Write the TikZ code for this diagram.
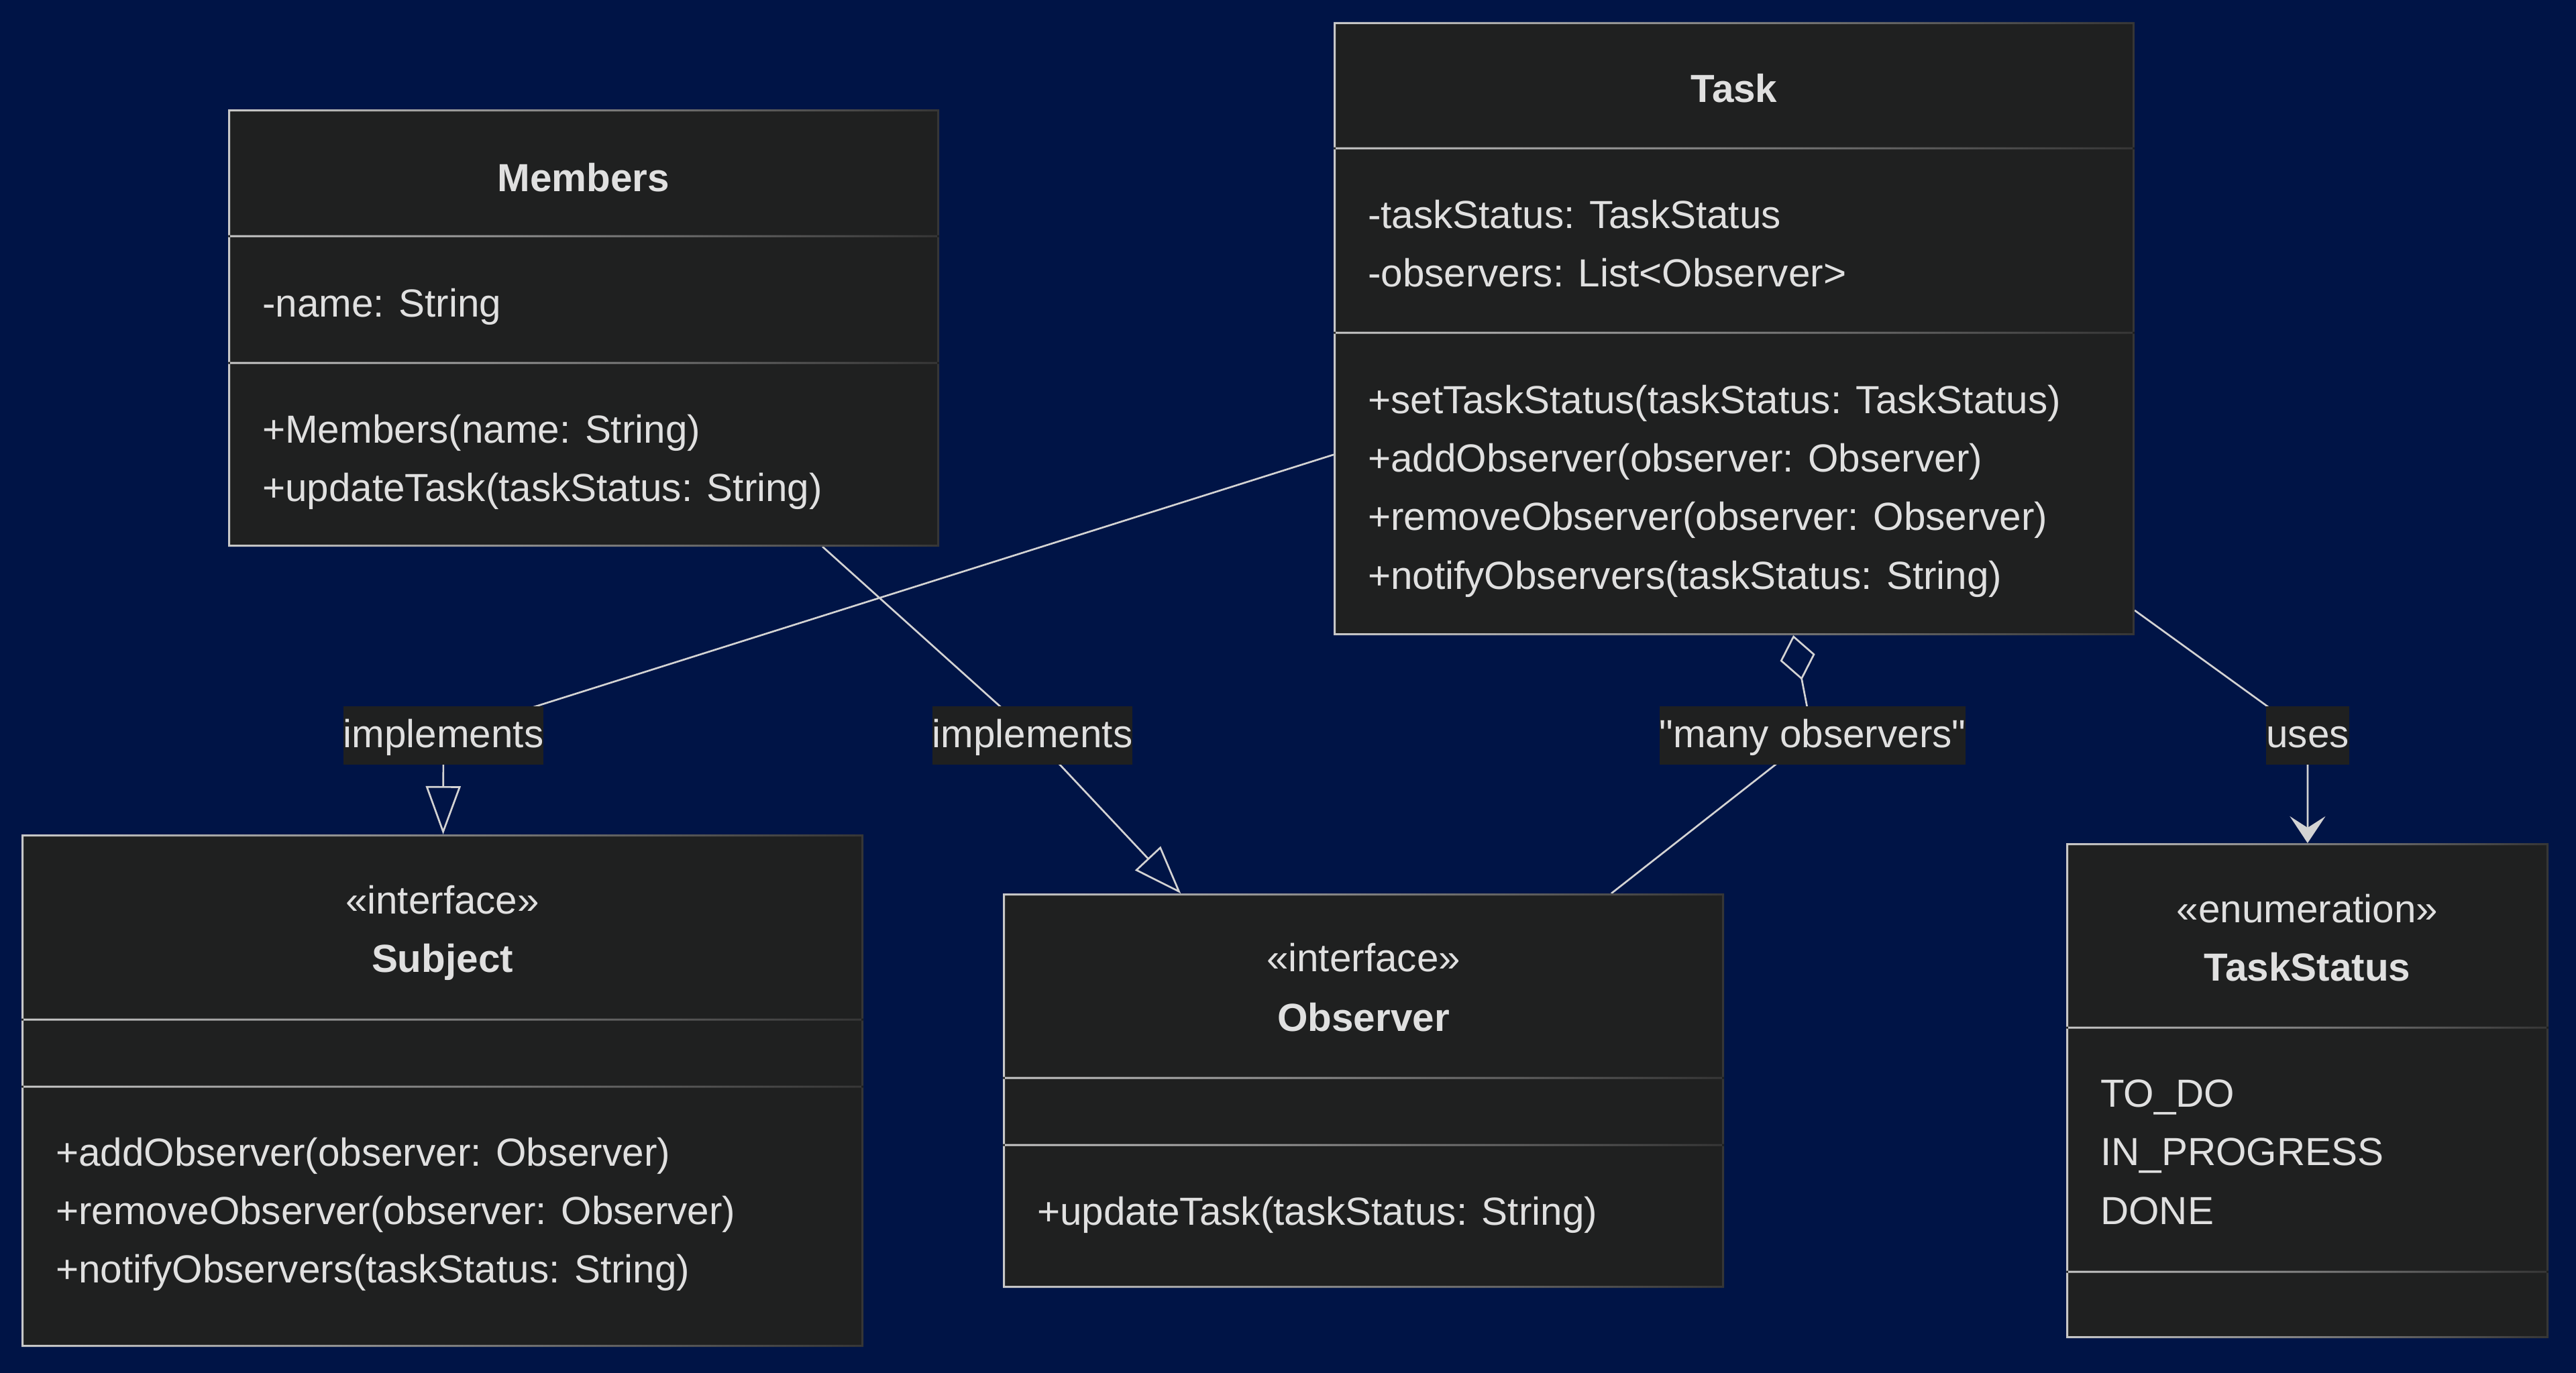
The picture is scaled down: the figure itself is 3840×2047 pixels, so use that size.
\documentclass[tikz,border=0pt]{standalone}
\usepackage{fontspec}
\setmainfont{Liberation Sans}
% same face without TeX input ligatures, so that " stays a straight quote
\newfontfamily\plainface{Liberation Sans}
\usetikzlibrary{arrows.meta,calc}

\definecolor{canvas}{HTML}{001446}
\definecolor{boxfill}{HTML}{1F2020}
\definecolor{ink}{HTML}{E0E0E0}
\definecolor{wire}{HTML}{D3D3D3}
\definecolor{rimlight}{HTML}{C8C8C8}
\definecolor{rimdark}{HTML}{363636}

\pgfdeclarelayer{backdrop}
\pgfdeclarelayer{wires}
\pgfsetlayers{backdrop,wires,main}

\newcommand\labelfont{\fontsize{58.4}{70}\selectfont}

\tikzset{
  classbox/.style={rectangle, fill=boxfill, draw=none, inner sep=0pt, outer sep=0pt},
  member/.style={anchor=base west, inner sep=0pt, text=ink, font=\labelfont},
  heading/.style={anchor=base, inner sep=0pt, text=ink, font=\labelfont\bfseries},
  stereo/.style={anchor=base, inner sep=0pt, text=ink, font=\labelfont},
  edgelabel/.style={rectangle, fill=boxfill, text=ink, inner xsep=0pt, inner ysep=0pt,
    text height=61pt, text depth=26pt, outer sep=0pt, font=\labelfont},
  wireline/.style={draw=wire, line width=2.7pt},
  realizes/.style={wireline, -{Triangle[open, length=72pt, width=52pt]}},
  aggregates/.style={wireline, -{Diamond[open, length=68pt, width=53pt]}},
  depends/.style={wireline, -{Stealth[length=40pt, width=53pt, inset=17pt, fill=wire]}},
}

% Gradient frame of a class box: outline plus two compartment separators
\newcommand\classrim[3]{%
  \path (0,#2) coordinate (rimA) (0,#3) coordinate (rimB);
  \shade[left color=rimlight, right color=rimdark, even odd rule]
    (#1.north west) rectangle (#1.south east)
    ($(#1.north west)+(3,3)$) rectangle ($(#1.south east)+(-3,-3)$)
    ($(#1.west |- rimA)+(0,-1.5)$) rectangle ($(#1.east |- rimA)+(0,1.5)$)
    ($(#1.west |- rimB)+(0,-1.5)$) rectangle ($(#1.east |- rimB)+(0,1.5)$);
}

\begin{document}
\begin{tikzpicture}[x=1pt, y=-1pt]
\useasboundingbox (0,0) rectangle (3840,2047);
\begin{pgfonlayer}{backdrop}
  \fill[canvas] (0,0) rectangle (3840,2047);
\end{pgfonlayer}

% ---------- Members ----------
\node[classbox, minimum width=1060pt, minimum height=652pt] (Members) at (870,489) {};
\classrim{Members}{352}{541}
\node[heading] (membersName) at (870,285) {Members};
\node[member] (membersA1) at (391,472) {-name: String};
\node[member] (membersM1) at (391,660) {+Members(name: String)};
\node[member] (membersM2) at (391,747) {+updateTask(taskStatus: String)};

% ---------- Task ----------
\node[classbox, minimum width=1194pt, minimum height=914pt] (Task) at (2585,490) {};
\classrim{Task}{221}{496}
\node[heading] (taskName) at (2585,152) {Task};
\node[member] (taskA1) at (2039,340) {-taskStatus: TaskStatus};
\node[member] (taskA2) at (2039,427) {-observers: List<Observer>};
\node[member] (taskM1) at (2039,616) {+setTaskStatus(taskStatus: TaskStatus)};
\node[member] (taskM2) at (2039,703) {+addObserver(observer: Observer)};
\node[member] (taskM3) at (2039,790) {+removeObserver(observer: Observer)};
\node[member] (taskM4) at (2039,878) {+notifyObservers(taskStatus: String)};

% ---------- Subject ----------
\node[classbox, minimum width=1255pt, minimum height=764pt] (Subject) at (659.5,1626) {};
\classrim{Subject}{1520}{1620}
\node[stereo] (subjectKind) at (659.5,1362) {«interface»};
\node[heading] (subjectName) at (659.5,1449) {Subject};
\node[member] (subjectM1) at (83,1738) {+addObserver(observer: Observer)};
\node[member] (subjectM2) at (83,1825) {+removeObserver(observer: Observer)};
\node[member] (subjectM3) at (83,1912) {+notifyObservers(taskStatus: String)};

% ---------- Observer ----------
\node[classbox, minimum width=1075pt, minimum height=588pt] (Observer) at (2032.5,1626) {};
\classrim{Observer}{1607}{1707}
\node[stereo] (observerKind) at (2032.5,1448) {«interface»};
\node[heading] (observerName) at (2032.5,1537) {Observer};
\node[member] (observerM1) at (1546,1826) {+updateTask(taskStatus: String)};

% ---------- TaskStatus ----------
\node[classbox, minimum width=719pt, minimum height=738pt] (TaskStatus) at (3439.5,1626) {};
\classrim{TaskStatus}{1532}{1896}
\node[stereo] (statusKind) at (3439.5,1375) {«enumeration»};
\node[heading] (statusName) at (3439.5,1462) {TaskStatus};
\node[member] (statusV1) at (3131,1650) {TO\_DO};
\node[member] (statusV2) at (3131,1737) {IN\_PROGRESS};
\node[member] (statusV3) at (3131,1825) {DONE};

% ---------- relation labels ----------
\node[edgelabel] (L1) at (661,1096.5) {implements};
\node[edgelabel] (L2) at (1539,1096.5) {implements};
\node[edgelabel] (L3) at (2702,1096.5) {\plainface "many observers"};
\node[edgelabel] (L4) at (3440,1096.5) {uses};

% ---------- relations ----------
\begin{pgfonlayer}{wires}
  \draw[wireline] (Task) -- (L1.center);
  \draw[realizes] (L1.center) -- (Subject);
  \draw[wireline] (Members) -- (L2.center);
  \draw[realizes] (L2.center) -- (Observer);
  \draw[aggregates] (L3.center) -- (Task);
  \draw[wireline] (L3.center) -- (Observer);
  \draw[wireline] (Task) -- (L4.center);
  \draw[depends] (L4.center) -- (TaskStatus);
\end{pgfonlayer}
\end{tikzpicture}
\end{document}
